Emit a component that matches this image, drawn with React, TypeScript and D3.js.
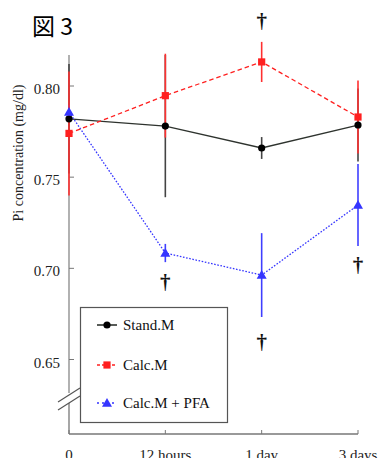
import React from "react";
import * as d3 from "d3";

const categories = ["0", "12 hours", "1 day", "3 days"];
const yTicks = [0.8, 0.75, 0.7, 0.65];
const yTickLabels = ["0.80", "0.75", "0.70", "0.65"];

const standMean = [0.782, 0.778, 0.766, 0.7786];
const standErr = [0.03, 0.039, 0.006, 0.02];
const calcMean = [0.774, 0.7947, 0.8132, 0.783];
const calcErr = [0.034, 0.023, 0.011, 0.02];
const pfaMean = [0.7857, 0.7084, 0.6963, 0.7347];
const pfaErr = [0.004, 0.005, 0.023, 0.0225];

const daggerCats = ["12 hours", "1 day", "1 day", "3 days"];
const daggerVals = [0.6886, 0.832, 0.6557, 0.698];

const legendLabels = ["Stand.M", "Calc.M", "Calc.M + PFA"];

const W = 379;
const H = 458;
const serif = "'Liberation Serif', 'Times New Roman', serif";

export default function App() {
  const x = d3.scalePoint<string>().domain(categories).range([69, 358]);
  const y = d3.scaleLinear().domain([0.65, 0.8]).range([359.5, 86]);
  const xAxisY = 434;

  const line = d3
    .line<number>()
    .x((_, i) => x(categories[i]) as number)
    .y((d) => y(d));

  const series = [
    { mean: standMean, err: standErr, color: "#2e332e", errColor: "#444", dash: "none", marker: "circle" },
    { mean: pfaMean, err: pfaErr, color: "#3535ff", errColor: "#3f3fff", dash: "1.6,1.6", marker: "tri" },
    { mean: calcMean, err: calcErr, color: "#ff2020", errColor: "#ff3030", dash: "4.5,3", marker: "square" },
  ];

  const marker = (type: string, cx: number, cy: number, color: string, key: string) => {
    if (type === "circle") return <circle key={key} cx={cx} cy={cy} r={3.6} fill="#000" />;
    if (type === "square")
      return <rect key={key} x={cx - 3.6} y={cy - 3.6} width={7.2} height={7.2} fill={color} />;
    const s = 5;
    return (
      <path
        key={key}
        d={`M${cx},${cy - s} L${cx + s},${cy + s * 0.75} L${cx - s},${cy + s * 0.75} Z`}
        fill={color}
      />
    );
  };

  const legendY = [325, 365, 403];
  const legendSeries = [series[0], series[2], series[1]];

  return (
    <svg width={W} height={H} style={{ position: "absolute", left: 0, top: 0, background: "#fff" }}>
      <rect width={W} height={H} fill="#fff" />
      <text x={32} y={35} fontFamily="'Noto Sans CJK JP', 'Noto Sans', sans-serif" fontSize={23} fill="#000">
        図 3
      </text>

      {/* y axis spine with break */}
      <line x1={69} x2={69} y1={55} y2={393} stroke="#888" strokeWidth={1.3} />
      <line x1={69} x2={69} y1={403} y2={xAxisY} stroke="#777" strokeWidth={1.3} />
      <line x1={58} y1={402} x2={80} y2={388} stroke="#555" strokeWidth={1.2} />
      <line x1={58} y1={410} x2={80} y2={396} stroke="#555" strokeWidth={1.2} />
      {yTicks.map((t, i) => (
        <g key={t}>
          <line x1={69} x2={74} y1={y(t)} y2={y(t)} stroke="#777" strokeWidth={1} />
          <text x={60} y={y(t) + 8} textAnchor="end" fontFamily={serif} fontSize={15} fill="#222">
            {yTickLabels[i]}
          </text>
        </g>
      ))}
      <text
        transform={`translate(23,153) rotate(-90)`}
        textAnchor="middle"
        fontFamily={serif}
        fontSize={14}
        fill="#222"
      >
        Pi concentration (mg/dl)
      </text>

      {/* x axis */}
      <line x1={69} x2={358} y1={xAxisY} y2={xAxisY} stroke="#777" strokeWidth={1.3} />
      {categories.map((c) => (
        <g key={c}>
          <line x1={x(c)} x2={x(c)} y1={xAxisY} y2={xAxisY - 4} stroke="#777" strokeWidth={1} />
          <text x={x(c)} y={460} textAnchor="middle" fontFamily={serif} fontSize={15} fill="#222">
            {c}
          </text>
        </g>
      ))}

      {/* error bars */}
      {series.map((s, si) =>
        s.mean.map((m, i) => (
          <line
            key={`e${si}-${i}`}
            x1={x(categories[i])}
            x2={x(categories[i])}
            y1={y(m + s.err[i])}
            y2={y(m - s.err[i])}
            stroke={s.errColor}
            strokeWidth={1.6}
          />
        ))
      )}

      {/* lines */}
      {series.map((s, si) => (
        <path
          key={`l${si}`}
          d={line(s.mean) as string}
          fill="none"
          stroke={s.color}
          strokeWidth={1.3}
          strokeDasharray={s.dash}
        />
      ))}

      {/* markers */}
      {series.map((s, si) =>
        s.mean.map((m, i) => marker(s.marker, x(categories[i]) as number, y(m), s.color, `m${si}-${i}`))
      )}

      {/* daggers */}
      {daggerCats.map((c, i) => (
        <text
          key={`d${i}`}
          x={x(c)}
          y={y(daggerVals[i])}
          textAnchor="middle"
          fontFamily={serif}
          fontSize={21}
          fontWeight="bold"
          fill="#111"
        >
          †
        </text>
      ))}

      {/* legend */}
      <rect x={80.5} y={307.5} width={147} height={115} fill="#fff" stroke="#555" strokeWidth={1.2} />
      {legendLabels.map((lab, i) => {
        const s = legendSeries[i];
        const ly = legendY[i];
        return (
          <g key={lab}>
            <line
              x1={97}
              x2={117}
              y1={ly}
              y2={ly}
              stroke={s.color}
              strokeWidth={1.6}
              strokeDasharray={s.dash === "none" ? "none" : s.dash === "4.5,3" ? "3,2" : "2,3"}
            />
            {marker(s.marker, 107, ly, s.color, `lm${i}`)}
            <text x={123} y={ly + 5} fontFamily={serif} fontSize={15} fill="#111">
              {lab}
            </text>
          </g>
        );
      })}
    </svg>
  );
}
